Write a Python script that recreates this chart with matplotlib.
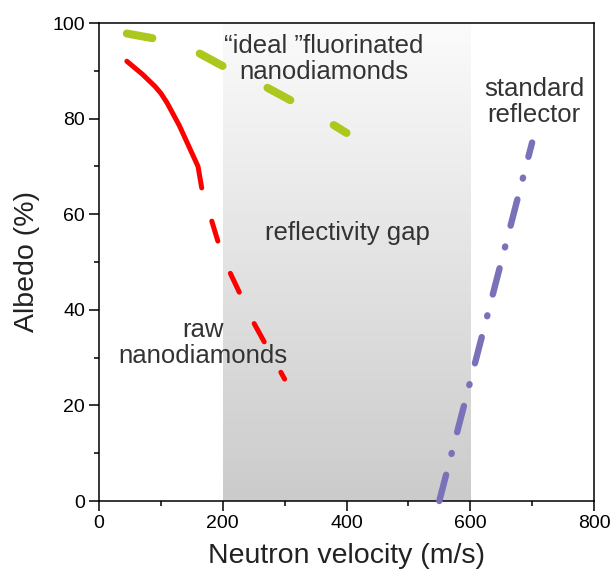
import numpy as np
import matplotlib
matplotlib.use("Agg")
import matplotlib.pyplot as plt
from matplotlib.ticker import MultipleLocator
from matplotlib.colors import LinearSegmentedColormap

plt.rcParams['font.family'] = ['Liberation Sans', 'DejaVu Sans']
plt.rcParams['lines.scale_dashes'] = False

# Data
raw_solid_v = [45, 70, 90, 100, 110, 130, 160, 166]
raw_solid_a = [92, 89.3, 86.8, 85.3, 83.3, 78.5, 70, 65.5]
raw_dash_v = [166, 200, 250, 300]
raw_dash_a = [65.5, 51, 37.3, 25.5]
fluor_v = [45, 100, 150, 200, 250, 300, 350, 400]
fluor_a = [97.8, 96.5, 94.5, 91, 88, 84.5, 81, 77]
std_v = [550, 700]
std_a = [0, 75]
gap_range = [200, 600]

xticks = [0, 200, 400, 600, 800]
yticks = [0, 20, 40, 60, 80, 100]

fig = plt.figure(figsize=(6.15, 5.83), dpi=100)
ax = fig.add_axes([99/615, 82/583, 495/615, 478/583])

# gradient "reflectivity gap" (dark at bottom, light at top)
grad = np.linspace(0, 1, 256).reshape(-1, 1)
cmap = LinearSegmentedColormap.from_list('g', ['#cbcbcb', '#fbfbfb'])
ax.imshow(grad, extent=[gap_range[0], gap_range[1], 0, 100], origin='lower',
          aspect='auto', cmap=cmap, zorder=0, interpolation='bilinear')
ax.set_xlim(0, 800)
ax.set_ylim(0, 100)

red = '#ff0000'
green = '#abc81c'
purple = '#7a72b8'

ax.plot(raw_solid_v, raw_solid_a, color=red, lw=3.6, solid_capstyle='round',
        solid_joinstyle='round', zorder=3)
ax.plot(raw_dash_v, raw_dash_a, color=red, lw=3.6, dash_capstyle='round',
        linestyle=(15, (15, 25)), zorder=3)
ax.plot(fluor_v, fluor_a, color=green, lw=5.8, dash_capstyle='round',
        linestyle=(0, (18.7, 36)), zorder=3)
ax.plot(std_v, std_a, color=purple, lw=4.6, dash_capstyle='round',
        linestyle=(0, (19.5, 15.5, 0.7, 15.5)), zorder=3, clip_on=False)

tc = '#333333'
fs = 18.5
ax.text(363, 92.5, '\u201cideal \u201dfluorinated\nnanodiamonds', ha='center', va='center',
        fontsize=fs, color=tc, linespacing=1.1, zorder=2)
ax.text(402, 56, 'reflectivity gap', ha='center', va='center', fontsize=fs, color=tc, zorder=2)
ax.text(168, 33, 'raw\nnanodiamonds', ha='center', va='center', fontsize=fs, color=tc,
        linespacing=1.1, zorder=2)
ax.text(703, 83.5, 'standard\nreflector', ha='center', va='center', fontsize=fs, color=tc,
        linespacing=1.1, zorder=2)

ax.set_xticks(xticks)
ax.set_yticks(yticks)
ax.xaxis.set_minor_locator(MultipleLocator(100))
ax.yaxis.set_minor_locator(MultipleLocator(10))
ax.tick_params(which='major', direction='out', length=7, width=1.1, labelsize=14, pad=3)
ax.tick_params(which='minor', direction='out', length=3.5, width=1.1)
for s in ax.spines.values():
    s.set_linewidth(1.1)
ax.set_xlabel('Neutron velocity (m/s)', fontsize=20.5, color='#222222', labelpad=8)
ax.set_ylabel('Albedo (%)', fontsize=20.5, color='#222222', labelpad=9)

fig.savefig('out.png', dpi=100)
